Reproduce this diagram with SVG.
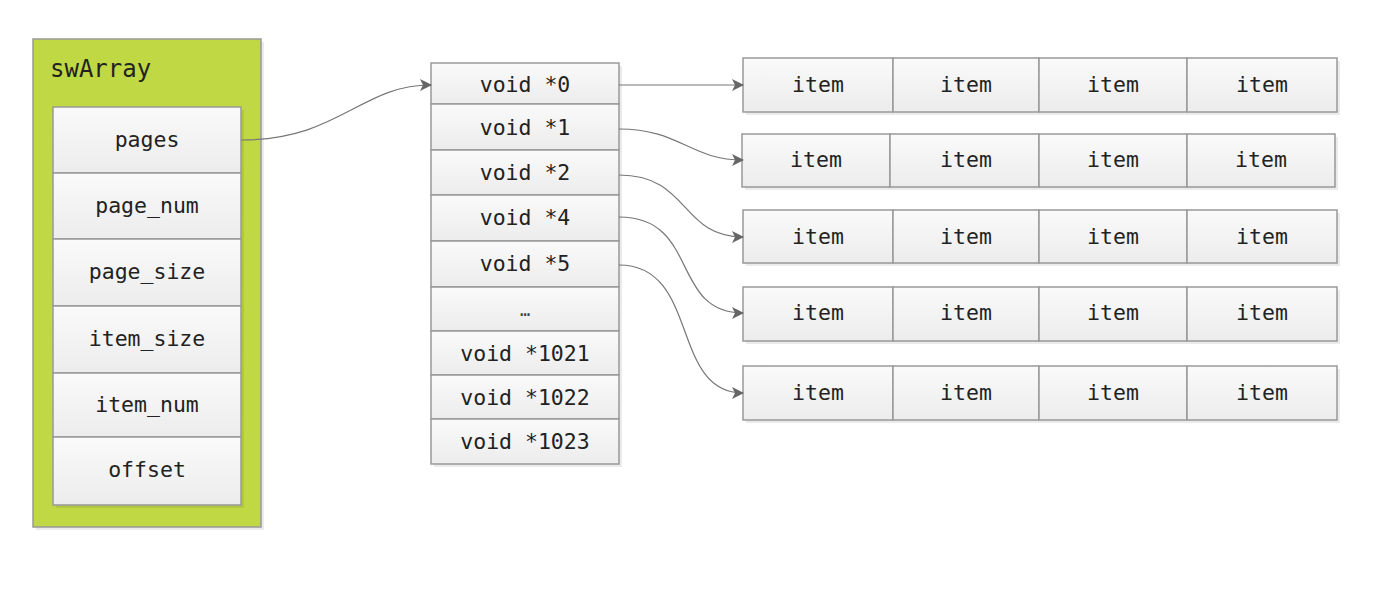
<svg xmlns="http://www.w3.org/2000/svg" width="1380" height="592" viewBox="0 0 1380 592">
<defs>
<linearGradient id="g" x1="0" y1="0" x2="0" y2="1"><stop offset="0" stop-color="#fafafa"/><stop offset="1" stop-color="#ececec"/></linearGradient>
<marker id="ar" markerWidth="12" markerHeight="12" refX="11" refY="6" orient="auto" markerUnits="userSpaceOnUse"><path d="M0,0 L12,6 L0,12 L3,6 Z" fill="#666"/></marker>
</defs>
<style>
.c{fill:url(#g);stroke:#999;stroke-width:1.5}
.sh{fill:#000;fill-opacity:0.08}
.t{font-family:"DejaVu Sans Mono",monospace;font-size:21.5px;fill:#222;text-anchor:middle}
.cn{fill:none;stroke:#777;stroke-width:1.2}
</style>
<rect width="1380" height="592" fill="#fff"/>
<g id="swArray">
<rect x="36" y="42" width="228" height="488" class="sh"/>
<rect x="33" y="39" width="228" height="488" fill="#c0d843" stroke="#999" stroke-width="1.5"/>
<text x="50" y="77" style="font-family:'DejaVu Sans Mono',monospace;font-size:24px;fill:#222">swArray</text>
<rect x="56" y="110" width="188" height="398" fill="#000" fill-opacity="0.08"/>
<g id="f-pages"><rect x="53" y="107" width="188" height="66" class="c"/><text x="147" y="147" class="t">pages</text></g>
<g id="f-page_num"><rect x="53" y="173" width="188" height="66" class="c"/><text x="147" y="213" class="t">page_num</text></g>
<g id="f-page_size"><rect x="53" y="239" width="188" height="67" class="c"/><text x="147" y="279" class="t">page_size</text></g>
<g id="f-item_size"><rect x="53" y="306" width="188" height="67" class="c"/><text x="147" y="346" class="t">item_size</text></g>
<g id="f-item_num"><rect x="53" y="373" width="188" height="64" class="c"/><text x="147" y="412" class="t">item_num</text></g>
<g id="f-offset"><rect x="53" y="437" width="188" height="68" class="c"/><text x="147" y="477" class="t">offset</text></g>
</g>
<g id="pages-array">
<rect x="434" y="66" width="188" height="401" class="sh"/>
<g id="p0"><rect x="431" y="63" width="188" height="41" class="c"/><text x="525" y="92" class="t">void *0</text></g>
<g id="p1"><rect x="431" y="104" width="188" height="46" class="c"/><text x="525" y="135" class="t">void *1</text></g>
<g id="p2"><rect x="431" y="150" width="188" height="45" class="c"/><text x="525" y="180" class="t">void *2</text></g>
<g id="p4"><rect x="431" y="195" width="188" height="46" class="c"/><text x="525" y="225" class="t">void *4</text></g>
<g id="p5"><rect x="431" y="241" width="188" height="46" class="c"/><text x="525" y="271" class="t">void *5</text></g>
<g id="pdots"><rect x="431" y="287" width="188" height="44" class="c"/><text x="525" y="316" class="t" style="font-size:17px;fill:#444">…</text></g>
<g id="p1021"><rect x="431" y="331" width="188" height="44" class="c"/><text x="525" y="361" class="t">void *1021</text></g>
<g id="p1022"><rect x="431" y="375" width="188" height="44" class="c"/><text x="525" y="405" class="t">void *1022</text></g>
<g id="p1023"><rect x="431" y="419" width="188" height="45" class="c"/><text x="525" y="449" class="t">void *1023</text></g>
</g>
<g id="row1">
<rect x="746" y="61" width="594" height="54" class="sh"/>
<rect x="743" y="58" width="150" height="54" class="c"/><text x="818" y="92" class="t">item</text>
<rect x="893" y="58" width="146" height="54" class="c"/><text x="966" y="92" class="t">item</text>
<rect x="1039" y="58" width="148" height="54" class="c"/><text x="1113" y="92" class="t">item</text>
<rect x="1187" y="58" width="150" height="54" class="c"/><text x="1262" y="92" class="t">item</text>
</g>
<g id="row2">
<rect x="745" y="137" width="593" height="53" class="sh"/>
<rect x="742" y="134" width="148" height="53" class="c"/><text x="816" y="167" class="t">item</text>
<rect x="890" y="134" width="149" height="53" class="c"/><text x="966" y="167" class="t">item</text>
<rect x="1039" y="134" width="148" height="53" class="c"/><text x="1113" y="167" class="t">item</text>
<rect x="1187" y="134" width="148" height="53" class="c"/><text x="1261" y="167" class="t">item</text>
</g>
<g id="row3">
<rect x="746" y="213" width="594" height="53" class="sh"/>
<rect x="743" y="210" width="150" height="53" class="c"/><text x="818" y="244" class="t">item</text>
<rect x="893" y="210" width="146" height="53" class="c"/><text x="966" y="244" class="t">item</text>
<rect x="1039" y="210" width="148" height="53" class="c"/><text x="1113" y="244" class="t">item</text>
<rect x="1187" y="210" width="150" height="53" class="c"/><text x="1262" y="244" class="t">item</text>
</g>
<g id="row4">
<rect x="746" y="290" width="594" height="54" class="sh"/>
<rect x="743" y="287" width="150" height="54" class="c"/><text x="818" y="320" class="t">item</text>
<rect x="893" y="287" width="146" height="54" class="c"/><text x="966" y="320" class="t">item</text>
<rect x="1039" y="287" width="148" height="54" class="c"/><text x="1113" y="320" class="t">item</text>
<rect x="1187" y="287" width="150" height="54" class="c"/><text x="1262" y="320" class="t">item</text>
</g>
<g id="row5">
<rect x="746" y="369" width="594" height="54" class="sh"/>
<rect x="743" y="366" width="150" height="54" class="c"/><text x="818" y="400" class="t">item</text>
<rect x="893" y="366" width="146" height="54" class="c"/><text x="966" y="400" class="t">item</text>
<rect x="1039" y="366" width="148" height="54" class="c"/><text x="1113" y="400" class="t">item</text>
<rect x="1187" y="366" width="150" height="54" class="c"/><text x="1262" y="400" class="t">item</text>
</g>
<g id="connectors">
<path class="cn" marker-end="url(#ar)" d="M241,140 C340,140 360,85 431,85"/>
<path class="cn" marker-end="url(#ar)" d="M619,85 L743,85"/>
<path class="cn" marker-end="url(#ar)" d="M619,129 C680,129 690,160 743,160"/>
<path class="cn" marker-end="url(#ar)" d="M619,175 C690,175 680,237 743,237"/>
<path class="cn" marker-end="url(#ar)" d="M619,217 C700,217 670,313 743,313"/>
<path class="cn" marker-end="url(#ar)" d="M619,265 C700,265 670,393 743,393"/>
</g>
</svg>
